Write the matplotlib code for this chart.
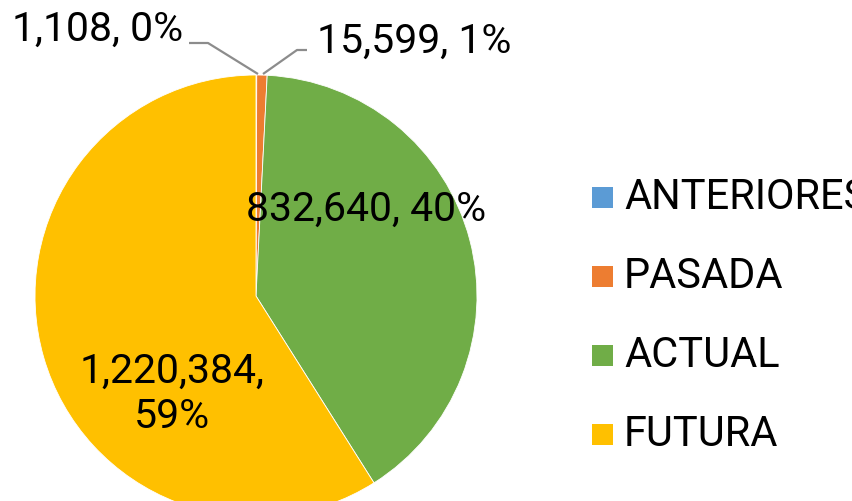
import matplotlib
matplotlib.use("Agg")
import matplotlib.pyplot as plt
from matplotlib.patches import Rectangle

plt.rcParams['font.family'] = ['Roboto', 'DejaVu Sans']

categories = ['ANTERIORES', 'PASADA', 'ACTUAL', 'FUTURA']
values = [1108, 15599, 832640, 1220384]
colors = ['#5B9BD5', '#ED7D31', '#70AD47', '#FFC000']

W, H = 853, 501
fig = plt.figure(figsize=(W / 100, H / 100), dpi=100)
ax = fig.add_axes([0, 0, 1, 1])
ax.set_aspect('equal')

# pie centre / radius in pixel coords (y measured from the top of the image)
cx, cy, r = 256, 296, 221
ax.pie(values, colors=colors, startangle=90, counterclock=False,
       center=(cx, H - cy), radius=r, frame=True,
       wedgeprops=dict(edgecolor='white', linewidth=0.6))
ax.set_xlim(0, W)
ax.set_ylim(0, H)
ax.axis('off')

total = sum(values)
labels = []
for v in values:
    labels.append(f"{v:,}, {round(100 * v / total):.0f}%")

# data labels (placed where the original chart had them)
fs = 29.5
ax.text(98, H - 29, labels[0], fontsize=fs, ha='center', va='center')
ax.text(414, H - 41, labels[1], fontsize=fs, ha='center', va='center')
ax.text(366, H - 209, labels[2], fontsize=fs, ha='center', va='center')
ax.text(172, H - 394, labels[3].replace(', ', ',\n'), fontsize=fs,
        ha='center', va='center', linespacing=1.2)

# leader lines for the two small slices
ax.plot([189, 208, 258], [H - 43, H - 43, H - 74], color='#8C8C8C', lw=1.6,
        solid_capstyle='butt')
ax.plot([307, 297, 263], [H - 50, H - 50, H - 74], color='#8C8C8C', lw=1.6,
        solid_capstyle='butt')

# legend
for i, (cat, col) in enumerate(zip(categories, colors)):
    yc = 197 + i * 79.3
    ax.add_patch(Rectangle((592, H - yc - 10.5), 21, 21, facecolor=col,
                           edgecolor='none'))
    ax.text(624, H - yc, cat, fontsize=30, ha='left', va='center')

fig.savefig('out.png', dpi=100)
